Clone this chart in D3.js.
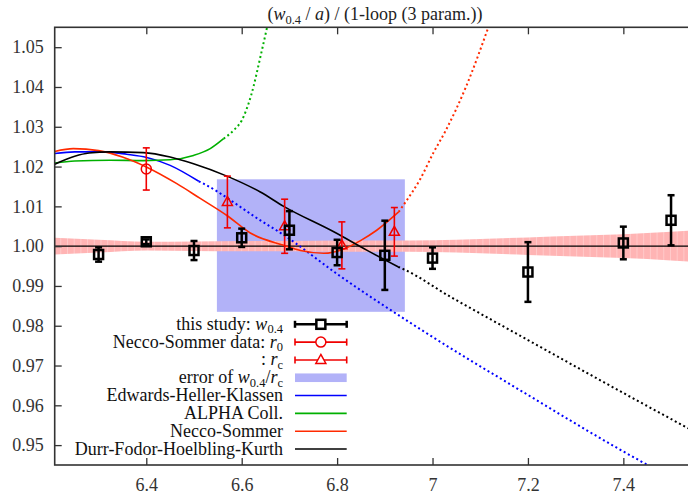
<!DOCTYPE html>
<html>
<head>
<meta charset="utf-8">
<script src="https://cdn.jsdelivr.net/npm/d3@7"></script>
<style>
  body { margin: 0; background: #fff; }
  svg { display: block; font-family: "Liberation Serif", "Times New Roman", serif; }
</style>
</head>
<body>
<svg id="chart" width="688" height="495"></svg>
<script>
// this study: w0.4 ratio per beta
const betaStudy = [6.3, 6.4, 6.5, 6.6, 6.7, 6.8, 6.9, 7.0, 7.2, 7.4, 7.5];
const ratioStudy = [0.9979, 1.0011, 0.9989, 1.0021, 1.0040, 0.9984, 0.9977, 0.9970, 0.9935, 1.0008, 1.0065];
const errStudy = [0.0018, 0.0006, 0.0024, 0.0023, 0.0048, 0.0032, 0.0087, 0.0027, 0.0075, 0.0041, 0.0063];

// Necco-Sommer data
const betaR0 = [6.4];
const ratioR0 = [1.0194];
const errR0 = [0.0053];
const betaRc = [6.57, 6.69, 6.81, 6.92];
const ratioRc = [1.0111, 1.0050, 1.0002, 1.0036];
const errRc = [0.0065, 0.0068, 0.0059, 0.0061];

// error of w0.4/rc (box)
const boxBeta = [6.548, 6.942];
const boxRatio = [0.9835, 1.0168];

// error band of the 1-loop fit
const bandBeta = [6.208, 6.3, 6.4, 6.5, 6.6, 6.7, 6.8, 6.9, 7.0, 7.1, 7.2, 7.3, 7.4, 7.5, 7.55];
const bandErr = [0.0021, 0.0016, 0.0011, 0.0012, 0.0013, 0.0013, 0.0014, 0.0014, 0.0015, 0.0018, 0.0022, 0.0026, 0.0030, 0.0036, 0.0040];

// parametrisations (solid part, then dotted extrapolation)
const ehkBeta = [6.208, 6.25, 6.31, 6.359, 6.401, 6.45, 6.51];
const ehkRatio = [1.0233, 1.0237, 1.0237, 1.0231, 1.0223, 1.0203, 1.0163];
const ehkBetaExt = [6.51, 6.52, 6.639, 6.688, 6.806, 6.967, 7.2, 7.4, 7.46];
const ehkRatioExt = [1.0163, 1.0157, 1.0065, 1.0028, 0.9925, 0.9797, 0.9626, 0.9484, 0.9444];

const alphaBeta = [6.208, 6.25, 6.324, 6.394, 6.45, 6.499, 6.534, 6.562];
const alphaRatio = [1.0209, 1.0214, 1.0216, 1.0215, 1.0217, 1.0228, 1.0245, 1.0270];
const alphaBetaExt = [6.562, 6.583, 6.6, 6.62, 6.64, 6.655];
const alphaRatioExt = [1.0270, 1.0291, 1.0316, 1.0380, 1.0480, 1.0560];

const nsBeta = [6.208, 6.247, 6.30, 6.35, 6.40, 6.464, 6.513, 6.569, 6.618, 6.688, 6.723, 6.772, 6.814, 6.849, 6.883, 6.929];
const nsRatio = [1.0238, 1.0245, 1.0240, 1.0224, 1.0199, 1.0157, 1.0120, 1.0077, 1.0033, 1.0002, 0.9989, 0.9982, 0.9993, 1.0014, 1.0040, 1.0086];
const nsBetaExt = [6.929, 6.943, 6.974, 7.002, 7.027, 7.07, 7.12];
const nsRatioExt = [1.0086, 1.0110, 1.0168, 1.0235, 1.0289, 1.0400, 1.0560];

const dfhkBeta = [6.208, 6.25, 6.28, 6.324, 6.394, 6.45, 6.499, 6.569, 6.639, 6.688, 6.793, 6.862, 6.928];
const dfhkRatio = [1.0206, 1.0226, 1.0234, 1.0237, 1.0235, 1.0224, 1.0207, 1.0176, 1.0136, 1.0100, 1.0036, 0.9990, 0.9948];
const dfhkBetaExt = [6.928, 6.943, 7.037, 7.083, 7.2, 7.4, 7.55];
const dfhkRatioExt = [0.9948, 0.9940, 0.9873, 0.9842, 0.9764, 0.9631, 0.9533];

const xTicks = [6.4, 6.6, 6.8, 7.0, 7.2, 7.4];
const yTicks = [0.95, 0.96, 0.97, 0.98, 0.99, 1.00, 1.01, 1.02, 1.03, 1.04, 1.05];

const svg = d3.select("#chart");
const plot = { left: 54.7, right: 694.9, top: 27.3, bottom: 465 };

const x = d3.scaleLinear().domain([6.208, 7.55]).range([plot.left, plot.right]);
const y = d3.scaleLinear().domain([0.945, 1.055]).range([plot.bottom, plot.top]);

const defs = svg.append("defs");
defs.append("clipPath").attr("id", "clip")
  .append("rect")
  .attr("x", plot.left).attr("y", plot.top)
  .attr("width", plot.right - plot.left).attr("height", plot.bottom - plot.top);

// faint vertical striping like the original band rendering
const pat = defs.append("pattern").attr("id", "stripes")
  .attr("patternUnits", "userSpaceOnUse").attr("width", 6.7).attr("height", 10);
pat.append("rect").attr("width", 6.7).attr("height", 10).attr("fill", "#ffb4b4");
pat.append("rect").attr("width", 0.8).attr("height", 10).attr("fill", "#ffcfcf");

const g = svg.append("g").attr("clip-path", "url(#clip)");

// blue error box
g.append("rect")
  .attr("x", x(boxBeta[0]))
  .attr("y", y(boxRatio[1]))
  .attr("width", x(boxBeta[1]) - x(boxBeta[0]))
  .attr("height", y(boxRatio[0]) - y(boxRatio[1]))
  .attr("fill", "#b2b2f8");

// pink band
const bandData = bandBeta.map((b, i) => ({ b: b, e: bandErr[i] }));
g.append("path")
  .datum(bandData)
  .attr("fill", "url(#stripes)")
  .attr("d", d3.area()
    .x(d => x(d.b))
    .y0(d => y(1 - d.e))
    .y1(d => y(1 + d.e))
    .curve(d3.curveMonotoneX));

// reference line at 1
g.append("line")
  .attr("x1", plot.left).attr("x2", plot.right)
  .attr("y1", y(1)).attr("y2", y(1))
  .attr("stroke", "#000").attr("stroke-width", 1.3);

const line = d3.line().x(d => x(d[0])).y(d => y(d[1])).curve(d3.curveMonotoneX);
const zip = (a, b) => a.map((v, i) => [v, b[i]]);

const curves = [
  { c: "#0000ff", s: zip(ehkBeta, ehkRatio), d: zip(ehkBetaExt, ehkRatioExt) },
  { c: "#00b000", s: zip(alphaBeta, alphaRatio), d: zip(alphaBetaExt, alphaRatioExt) },
  { c: "#ff2a00", s: zip(nsBeta, nsRatio), d: zip(nsBetaExt, nsRatioExt) },
  { c: "#000000", s: zip(dfhkBeta, dfhkRatio), d: zip(dfhkBetaExt, dfhkRatioExt) }
];
curves.forEach(cv => {
  g.append("path").attr("d", line(cv.s))
    .attr("fill", "none").attr("stroke", cv.c).attr("stroke-width", 1.6);
  g.append("path").attr("d", line(cv.d))
    .attr("fill", "none").attr("stroke", cv.c).attr("stroke-width", 2)
    .attr("stroke-dasharray", "2,2.8");
});

// error bars
function errBars(xs, ys, es, colour, width) {
  const eg = svg.append("g").attr("stroke", colour).attr("stroke-width", width).attr("fill", "none");
  xs.forEach((b, i) => {
    const px = x(b), hi = y(ys[i] + es[i]), lo = y(ys[i] - es[i]);
    eg.append("line").attr("x1", px).attr("x2", px).attr("y1", hi).attr("y2", lo);
    eg.append("line").attr("x1", px - 3.5).attr("x2", px + 3.5).attr("y1", hi).attr("y2", hi);
    eg.append("line").attr("x1", px - 3.5).attr("x2", px + 3.5).attr("y1", lo).attr("y2", lo);
  });
  return eg;
}

function square(sel, px, py) {
  sel.append("rect").attr("x", px - 4.5).attr("y", py - 4.5).attr("width", 9).attr("height", 9)
    .attr("fill", "none").attr("stroke", "#000").attr("stroke-width", 2.5);
}
function circle(sel, px, py) {
  sel.append("circle").attr("cx", px).attr("cy", py).attr("r", 5)
    .attr("fill", "none").attr("stroke", "#f00000").attr("stroke-width", 1.5);
}
function triangle(sel, px, py) {
  return sel.append("path")
    .attr("d", `M${px},${py - 5.5}L${px + 5},${py + 3.5}L${px - 5},${py + 3.5}Z`)
    .attr("fill", "none").attr("stroke", "#f00000").attr("stroke-width", 1.5);
}

const rcG = errBars(betaRc, ratioRc, errRc, "#f00000", 1.6);
betaRc.forEach((b, i) => triangle(rcG, x(b), y(ratioRc[i])));
const r0G = errBars(betaR0, ratioR0, errR0, "#f00000", 1.6);
betaR0.forEach((b, i) => circle(r0G, x(b), y(ratioR0[i])));
const stG = errBars(betaStudy, ratioStudy, errStudy, "#000", 2.5);
betaStudy.forEach((b, i) => square(stG, x(b), y(ratioStudy[i])));

// axes
const axisCol = "#333";
const axLeft = svg.append("g").attr("transform", `translate(${plot.left},0)`)
  .call(d3.axisLeft(y).tickValues(yTicks).tickFormat(d3.format(".2f")).tickSize(-7).tickPadding(11));
const axBottom = svg.append("g").attr("transform", `translate(0,${plot.bottom})`)
  .call(d3.axisBottom(x).tickValues(xTicks).tickFormat(d => d === 7 ? "7" : d3.format(".1f")(d)).tickSize(-7).tickPadding(13));
const axTop = svg.append("g").attr("transform", `translate(0,${plot.top})`)
  .call(d3.axisTop(x).tickValues(xTicks).tickFormat("").tickSize(-7));
[axLeft, axBottom, axTop].forEach(a => {
  a.attr("font-family", null).attr("font-size", null);
  a.select(".domain").remove();
  a.selectAll("line").attr("stroke", axisCol).attr("stroke-width", 1.3);
  a.selectAll("text").attr("fill", "#333").style("font-size", "18px")
    .style("font-family", '"Liberation Serif", "Times New Roman", serif');
});

svg.append("rect")
  .attr("x", plot.left).attr("y", plot.top)
  .attr("width", plot.right - plot.left).attr("height", plot.bottom - plot.top)
  .attr("fill", "none").attr("stroke", axisCol).attr("stroke-width", 1.6);

// rich text helper: parts [text, style] with style "" | "i" | "sub"
function rich(sel, parts) {
  let shifted = false;
  parts.forEach(p => {
    const t = sel.append("tspan").text(p[0]);
    if (p[1] === "i") t.style("font-style", "italic");
    if (p[1] === "sub") { t.style("font-size", "12.5px").attr("dy", shifted ? 0 : 3.5); shifted = true; }
    else if (shifted) { t.attr("dy", -3.5); shifted = false; }
  });
}

// title
rich(svg.append("text").attr("x", 375).attr("y", 20).attr("text-anchor", "middle")
  .attr("fill", "#222").style("font-size", "18px"),
  [["(", ""], ["w", "i"], ["0.4", "sub"], [" / ", ""], ["a", "i"], [") / (1-loop (3 param.))", ""]]);

// legend
const legendLabels = [
  [["this study: ", ""], ["w", "i"], ["0.4", "sub"]],
  [["Necco-Sommer data: ", ""], ["r", "i"], ["0", "sub"]],
  [[": ", ""], ["r", "i"], ["c", "sub"]],
  [["error of ", ""], ["w", "i"], ["0.4", "sub"], ["/", ""], ["r", "i"], ["c", "sub"]],
  [["Edwards-Heller-Klassen", ""]],
  [["ALPHA Coll.", ""]],
  [["Necco-Sommer", ""]],
  [["Durr-Fodor-Hoelbling-Kurth", ""]]
];
const legendY = d3.scaleLinear().domain([0, 7]).range([324.3, 449]);
const lx0 = 295, lx1 = 346.7, lxm = (lx0 + lx1) / 2;
legendLabels.forEach((parts, i) => {
  const ly = legendY(i);
  rich(svg.append("text").attr("x", 283).attr("y", ly + 5.5).attr("text-anchor", "end")
    .attr("fill", "#111").style("font-size", "18px"), parts);
  const lg = svg.append("g");
  if (i < 3) {
    const col = i === 0 ? "#000" : "#f00000";
    const w = i === 0 ? 2.5 : 1.6;
    lg.append("line").attr("x1", lx0).attr("x2", lx1).attr("y1", ly).attr("y2", ly).attr("stroke", col).attr("stroke-width", w);
    lg.append("line").attr("x1", lx0).attr("x2", lx0).attr("y1", ly - 3.5).attr("y2", ly + 3.5).attr("stroke", col).attr("stroke-width", w);
    lg.append("line").attr("x1", lx1).attr("x2", lx1).attr("y1", ly - 3.5).attr("y2", ly + 3.5).attr("stroke", col).attr("stroke-width", w);
    if (i === 0) { lg.append("rect").attr("x", lxm - 4.5).attr("y", ly - 4.5).attr("width", 9).attr("height", 9).attr("fill", "#fff").attr("stroke", "#000").attr("stroke-width", 2.5); }
    if (i === 1) { lg.append("circle").attr("cx", lxm).attr("cy", ly).attr("r", 5).attr("fill", "#fff").attr("stroke", "#f00000").attr("stroke-width", 1.5); }
    if (i === 2) { triangle(lg, lxm, ly).attr("fill", "#fff"); }
  } else if (i === 3) {
    lg.append("rect").attr("x", lx0).attr("y", ly - 4.3).attr("width", lx1 - lx0).attr("height", 8.6).attr("fill", "#b2b2f8");
  } else {
    const col = curves[i - 4].c;
    lg.append("line").attr("x1", lx0).attr("x2", lx1).attr("y1", ly).attr("y2", ly).attr("stroke", col).attr("stroke-width", 1.6);
  }
});
</script>
</body>
</html>
